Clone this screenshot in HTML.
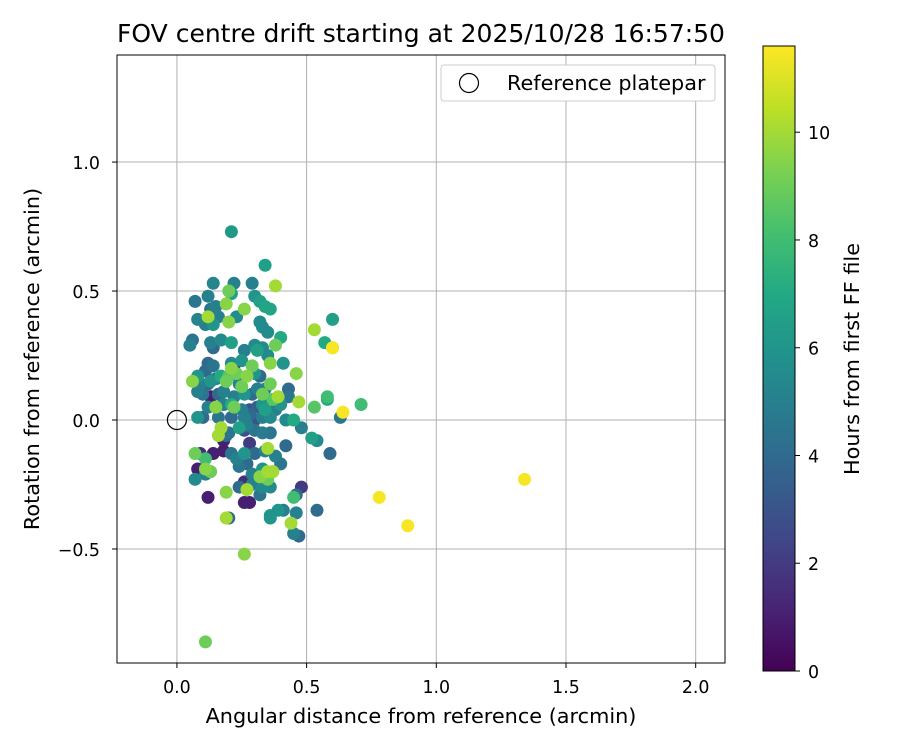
<!DOCTYPE html>
<html><head><meta charset="utf-8">
<style>
html,body{margin:0;padding:0;background:#fff;}
svg text{font-family:"DejaVu Sans","Liberation Sans",sans-serif;fill:#000;}
</style></head>
<body>
<svg id="chart" width="900" height="750" viewBox="0 0 900 750" xmlns="http://www.w3.org/2000/svg">
<defs>
<linearGradient id="vir" x1="0" y1="1" x2="0" y2="0">
<stop offset="0" stop-color="#440154"/><stop offset="0.1" stop-color="#482475"/><stop offset="0.2" stop-color="#414487"/><stop offset="0.3" stop-color="#355f8d"/><stop offset="0.4" stop-color="#2a788e"/><stop offset="0.5" stop-color="#21918c"/><stop offset="0.6" stop-color="#22a884"/><stop offset="0.7" stop-color="#44bf70"/><stop offset="0.8" stop-color="#7ad151"/><stop offset="0.9" stop-color="#bddf26"/><stop offset="1" stop-color="#fde725"/>
</linearGradient>
<clipPath id="plotclip"><rect x="117" y="55" width="608" height="608"/></clipPath>
</defs>
<text x="421" y="42" font-size="25" text-anchor="middle">FOV centre drift starting at 2025/10/28 16:57:50</text>
<g id="grid"></g>
<g id="points" clip-path="url(#plotclip)"></g>
<rect x="117" y="55" width="608" height="608" fill="none" stroke="#000" stroke-width="1"/>
<g id="xticks"></g>
<g id="yticks"></g>
<text x="421" y="723" font-size="20.8" text-anchor="middle">Angular distance from reference (arcmin)</text>
<text x="0" y="0" font-size="20.8" text-anchor="middle" transform="translate(39,359) rotate(-90)">Rotation from reference (arcmin)</text>
<g>
<rect x="441" y="65" width="274" height="36" rx="3" fill="#fff" stroke="#ccc"/>
<circle cx="469" cy="83" r="9.5" fill="none" stroke="#000" stroke-width="1.2"/>
<text x="507" y="90" font-size="20.8">Reference platepar</text>
</g>
<rect x="763" y="46" width="32" height="625" fill="url(#vir)" stroke="#000" stroke-width="1"/>
<g id="cticks"></g>
<text x="0" y="0" font-size="20.8" text-anchor="middle" transform="translate(859,359) rotate(-90)">Hours from first FF file</text>
</svg>
<script>
const xTicks=[0,0.5,1,1.5,2];
const xTickLabels=["0.0","0.5","1.0","1.5","2.0"];
const yTicks=[-0.5,0,0.5,1];
const yTickLabels=["\u22120.5","0.0","0.5","1.0"];
const cTicks=[0,2,4,6,8,10];
const refPoint=[0,0];
const xs=[0.21,0.34,0.38,0.07,0.12,0.14,0.22,0.21,0.20,0.19,0.29,0.30,0.32,0.34,0.36,0.26,0.13,0.15,0.11,0.08,0.14,0.16,0.23,0.20,0.12,0.32,0.33,0.35,0.40,0.38,0.41,0.06,0.05,0.13,0.14,0.17,0.21,0.30,0.26,0.31,0.33,0.12,0.14,0.11,0.21,0.21,0.22,0.25,0.29,0.35,0.36,0.08,0.06,0.09,0.12,0.13,0.15,0.17,0.19,0.20,0.23,0.24,0.25,0.27,0.30,0.32,0.36,0.46,0.08,0.10,0.13,0.16,0.18,0.22,0.26,0.29,0.31,0.33,0.34,0.37,0.39,0.40,0.43,0.43,0.47,0.12,0.15,0.18,0.21,0.22,0.25,0.28,0.31,0.33,0.34,0.38,0.08,0.10,0.16,0.21,0.26,0.28,0.30,0.33,0.36,0.42,0.45,0.53,0.58,0.58,0.63,0.64,0.71,0.17,0.16,0.18,0.19,0.20,0.24,0.26,0.27,0.30,0.33,0.36,0.42,0.48,0.52,0.54,0.59,0.07,0.09,0.11,0.14,0.18,0.21,0.23,0.26,0.28,0.30,0.34,0.35,0.38,0.40,0.08,0.11,0.13,0.11,0.07,0.24,0.27,0.29,0.32,0.33,0.35,0.37,0.35,0.19,0.24,0.26,0.27,0.29,0.32,0.33,0.36,0.45,0.46,0.48,0.12,0.19,0.20,0.26,0.28,0.36,0.39,0.36,0.41,0.44,0.46,0.45,0.47,0.54,0.26,0.11,0.57,0.60,0.60,0.60,0.53,1.34,0.78,0.89];
const ys=[0.73,0.60,0.52,0.46,0.48,0.53,0.53,0.49,0.50,0.45,0.53,0.48,0.46,0.44,0.43,0.43,0.43,0.44,0.37,0.39,0.37,0.40,0.40,0.38,0.40,0.38,0.36,0.34,0.32,0.29,0.22,0.31,0.29,0.30,0.28,0.31,0.30,0.29,0.27,0.27,0.28,0.22,0.21,0.19,0.22,0.20,0.21,0.23,0.21,0.25,0.22,0.17,0.15,0.14,0.14,0.15,0.16,0.17,0.15,0.17,0.18,0.14,0.13,0.17,0.18,0.17,0.14,0.18,0.11,0.10,0.09,0.10,0.11,0.09,0.10,0.10,0.12,0.10,0.12,0.08,0.09,0.06,0.12,0.09,0.07,0.05,0.05,0.06,0.06,0.05,0.04,0.04,0.05,0.06,0.04,0.04,0.01,0.01,0.01,0.01,0.01,0.02,0.00,0.01,0.01,0.00,0.00,0.05,0.08,0.09,0.01,0.03,0.06,-0.03,-0.06,-0.08,-0.06,-0.05,-0.03,-0.04,-0.02,-0.04,-0.05,-0.05,-0.10,-0.03,-0.07,-0.08,-0.13,-0.13,-0.13,-0.15,-0.13,-0.12,-0.13,-0.15,-0.13,-0.09,-0.13,-0.12,-0.11,-0.14,-0.17,-0.19,-0.21,-0.20,-0.19,-0.23,-0.18,-0.17,-0.21,-0.22,-0.19,-0.20,-0.20,-0.23,-0.28,-0.26,-0.24,-0.27,-0.25,-0.29,-0.26,-0.26,-0.30,-0.29,-0.26,-0.30,-0.38,-0.38,-0.32,-0.32,-0.37,-0.35,-0.38,-0.35,-0.40,-0.36,-0.44,-0.45,-0.35,-0.52,-0.86,0.30,0.28,0.28,0.39,0.35,-0.23,-0.30,-0.41];
const hours=[6.2,6.5,10,4.5,5,5.2,5,6.5,9,9.5,5,6,6.5,6.8,6.8,9.5,4.5,5,5,5.2,6,5,5.5,9.5,10,5.5,5.5,5.5,7,9,6,4.5,5,5,4,5.5,6.5,5.5,5,6.5,5.5,4,4.5,4,5.5,9.5,1.5,6,9,5.5,9.5,6,9.5,5,4,6,5,7,9,8.5,9,5,9,9.5,6,4,9,9.5,5,4.5,1,4,5,5,6,4,5,9,5,8.5,10,6,4,4.5,10,5,9.5,5,7,9,5,3,3.5,6,6.5,5,6,4,4.5,4,5,4,3,5,5.5,5.5,7,8.5,7,8,4.5,11.5,8,10,10,1,4,4.5,6.5,3,5,4.5,4.8,4.5,4,5,6.5,5.5,4,9,1.5,8,1,1,4.5,5,6,2,4,5,10,5,4.5,1,5,9,9.5,5.5,4.5,4,5,9.5,6,10,10,9,9.5,4,1.5,10,5,4.5,5.5,5.5,8,4,2,1,10,4,1,1,6,6,6,5,10,5,5,4,4,9.5,9,7,11.5,10,6.5,10,11.5,11.5,11.5];

const X0=117,X1=725,XMIN=-0.231,XMAX=2.113;
const Y0=55,Y1=663,YMIN=-0.942,YMAX=1.415;
const CMAX=11.6;
function sx(v){return X0+(v-XMIN)/(XMAX-XMIN)*(X1-X0);}
function sy(v){return Y1-(v-YMIN)/(YMAX-YMIN)*(Y1-Y0);}
function cy(v){return 671-v/CMAX*625;}
const stops=[[68,1,84],[72,36,117],[65,68,135],[53,95,141],[42,120,142],[33,145,140],[34,168,132],[68,191,112],[122,209,81],[189,223,38],[253,231,37]];
function viridis(h){let t=Math.max(0,Math.min(1,h/CMAX))*10;let i=Math.min(9,Math.floor(t)),f=t-i;const a=stops[i],b=stops[i+1];return `rgb(${Math.round(a[0]+(b[0]-a[0])*f)},${Math.round(a[1]+(b[1]-a[1])*f)},${Math.round(a[2]+(b[2]-a[2])*f)})`;}
const NS="http://www.w3.org/2000/svg";
function mk(tag,attrs,parent){const e=document.createElementNS(NS,tag);for(const k in attrs)e.setAttribute(k,attrs[k]);parent.appendChild(e);return e;}
const grid=document.getElementById('grid'),xt=document.getElementById('xticks'),yt=document.getElementById('yticks'),pts=document.getElementById('points'),ct=document.getElementById('cticks');
xTicks.forEach((v,i)=>{const x=sx(v);
 const g=mk('line',{x1:x,x2:x,y1:Y0,y2:Y1,stroke:'#b0b0b0','stroke-width':1},grid);
 
 
 mk('line',{x1:x,x2:x,y1:Y1,y2:Y1+5,stroke:'#000'},xt);
 const t=mk('text',{x:x,y:Y1+30,'font-size':17.4,'text-anchor':'middle'},xt);t.textContent=xTickLabels[i];
 
 });
yTicks.forEach((v,i)=>{const y=sy(v);
 const g=mk('line',{x1:X0,x2:X1,y1:y,y2:y,stroke:'#b0b0b0','stroke-width':1},grid);
 
 
 mk('line',{x1:X0-5,x2:X0,y1:y,y2:y,stroke:'#000'},yt);
 const t=mk('text',{x:X0-17,y:y+7,'font-size':17.4,'text-anchor':'end'},yt);t.textContent=yTickLabels[i];
 
 });
cTicks.forEach(v=>{const y=cy(v);
 mk('line',{x1:795,x2:800,y1:y,y2:y,stroke:'#000'},ct);
 const t=mk('text',{x:808,y:y+7,'font-size':17.4},ct);t.textContent=String(v);
 
 });
const idx=hours.map((h,i)=>i).sort((a,b)=>hours[a]-hours[b]);
idx.forEach(i=>{const c=mk('circle',{cx:sx(xs[i]),cy:sy(ys[i]),r:6.5,fill:viridis(hours[i])},pts);
 
 });
const r=mk('circle',{cx:sx(refPoint[0]),cy:sy(refPoint[1]),r:9.5,fill:'none',stroke:'#000','stroke-width':1.2},pts);


</script>
</body></html>
